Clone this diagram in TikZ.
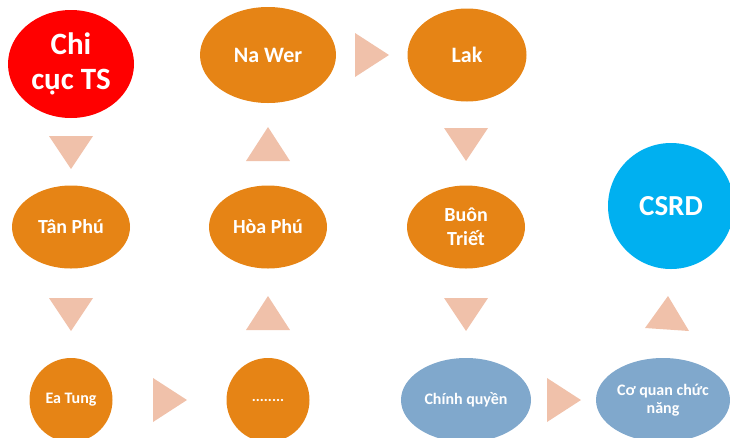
\documentclass[tikz,border=0pt]{standalone}
\usepackage{fontspec}
\setmainfont{Carlito}
\usetikzlibrary{shapes.geometric}
\definecolor{orng}{HTML}{E68415}
\definecolor{redc}{HTML}{FF0000}
\definecolor{cyanc}{HTML}{00B0F0}
\definecolor{bluec}{HTML}{80A8CC}
\definecolor{trif}{HTML}{F0C1AA}
\tikzset{
  bub/.style={ellipse, inner sep=0pt, text=white, align=center, font=\bfseries},
  ora/.style={bub, fill=orng},
  blu/.style={bub, fill=bluec},
  tri/.style={fill=trif},
}
\begin{document}
\begin{tikzpicture}[x=1pt,y=-1pt]
\useasboundingbox (0,0) rectangle (730,437);
% nodes
\node[bub, fill=redc, minimum width=126pt, minimum height=108pt, font=\bfseries\fontsize{31}{35}\selectfont] (chi) at (71,64) {Chi\\cục TS};
\node[ora, minimum width=136pt, minimum height=96pt, font=\bfseries\fontsize{22}{26}\selectfont] (nawer) at (268,55) {Na Wer};
\node[ora, minimum width=119pt, minimum height=93pt, font=\bfseries\fontsize{22}{26}\selectfont] (lak) at (467,55) {Lak};
\node[ora, minimum width=118pt, minimum height=83pt, font=\bfseries\fontsize{20}{24}\selectfont] (tanphu) at (71,227) {Tân Phú};
\node[ora, minimum width=118pt, minimum height=83pt, font=\bfseries\fontsize{20}{24}\selectfont] (hoaphu) at (268,227) {Hòa Phú};
\node[ora, minimum width=118pt, minimum height=83pt, font=\bfseries\fontsize{20}{24}\selectfont] (buon) at (466,227) {Buôn\\Triết};
\node[bub, fill=cyanc, minimum width=126pt, minimum height=126pt, font=\bfseries\fontsize{29}{33}\selectfont] (csrd) at (671,206) {CSRD};
\node[ora, minimum width=83pt, minimum height=84pt, font=\bfseries\fontsize{16}{18}\selectfont] (eatung) at (71,400) {Ea Tung};
\node[ora, minimum width=83pt, minimum height=84pt, font=\bfseries\fontsize{15}{18}\selectfont] (dots) at (268,400) {........};
\node[blu, minimum width=130pt, minimum height=84pt, font=\bfseries\fontsize{16}{18}\selectfont] (chinh) at (466,400) {Chính quyền};
\node[blu, minimum width=134pt, minimum height=84pt, font=\bfseries\fontsize{16}{18}\selectfont] (coquan) at (663,400) {Cơ quan chức\\năng};
% triangles
\fill[tri] (49,136) -- (93,136) -- (71,169) -- cycle;
\fill[tri] (49,298) -- (93,298) -- (71,331) -- cycle;
\fill[tri] (153,378) -- (153,422) -- (187,400) -- cycle;
\fill[tri] (246,330) -- (290,330) -- (268,296) -- cycle;
\fill[tri] (246,161) -- (290,161) -- (268,127) -- cycle;
\fill[tri] (355,33) -- (355,77) -- (389,55) -- cycle;
\fill[tri] (444,128) -- (488,128) -- (466,161) -- cycle;
\fill[tri] (444,298) -- (488,298) -- (466,331) -- cycle;
\fill[tri] (547,378) -- (547,422) -- (581,400) -- cycle;
\fill[tri] (645,328) -- (689,331) -- (668,296) -- cycle;
\end{tikzpicture}
\end{document}
